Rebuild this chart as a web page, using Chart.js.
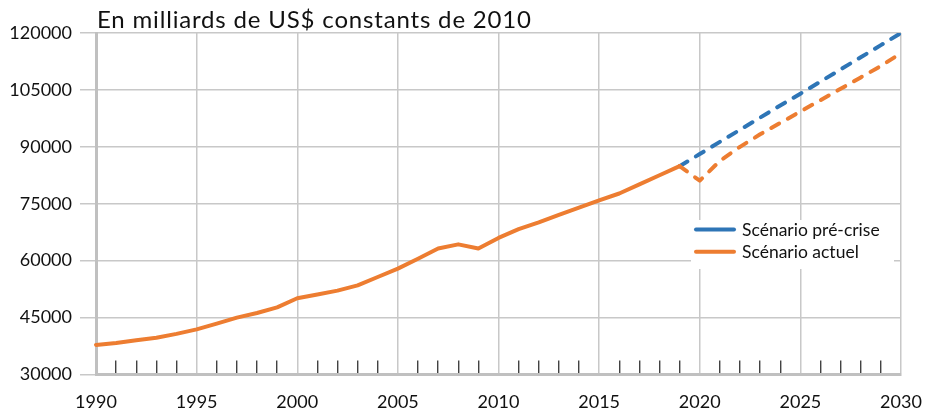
<!DOCTYPE html>
<html>
<head>
<meta charset="utf-8">
<script src="https://cdn.jsdelivr.net/npm/chart.js@4.4.1/dist/chart.umd.min.js"></script>
<style>
  body { margin: 0; background: #fff; }
  #wrap { width: 925px; height: 416px; position: relative; }
</style>
</head>
<body>
<div id="wrap"><canvas id="myChart"></canvas></div>
<script>
// years on the x axis
const years = [];
for (let y = 1990; y <= 2030; y++) years.push(String(y));

// observed values 1990-2019
const historique = [37800, 38300, 39000, 39700, 40700, 41900, 43400, 45000, 46200, 47700,
                    50100, 51100, 52100, 53500, 55700, 57900, 60500, 63200, 64300, 63200,
                    66000, 68300, 70100, 72100, 74000, 75900, 77700, 80100, 82500, 84900];
// projections 2020-2030
const preCrise = [88100, 91300, 94500, 97700, 100900, 104000, 107200, 110400, 113600, 116800, 120000];
const actuel = [81100, 86300, 90000, 93300, 96300, 99300, 102300, 105300, 108300, 111300, 114700];

const yTicks = [30000, 45000, 60000, 75000, 90000, 105000, 120000];
const titre = 'En milliards de US$ constants de 2010';
const labels = ['Scénario pré-crise', 'Scénario actuel'];

const lastHist = historique.length - 1;
const serieActuel = historique.concat(actuel);
const seriePreCrise = historique.map((v, i) => i === lastHist ? v : null).concat(preCrise);

const FONT = 'Lato';
const dashed = ctx => ctx.p0DataIndex >= lastHist ? [9, 10] : undefined;

const titlePlugin = {
    id: 'titre',
    afterDraw(chart) {
        const c = chart.ctx;
        c.save();
        c.font = '24px ' + FONT;
        // stretch a little to the width of the original title
        const w = c.measureText(titre).width;
        c.letterSpacing = Math.max(0, (434 - w) / (titre.length - 1)) + 'px';
        c.fillStyle = '#111';
        c.textBaseline = 'alphabetic';
        c.textAlign = 'left';
        c.fillText(titre, 97, 27.5);
        c.restore();
    }
};

const legendPlugin = {
    id: 'legendeBox',
    afterDraw(chart) {
        const c = chart.ctx;
        c.save();
        c.fillStyle = '#fff';
        c.fillRect(691, 220, 203, 49);
        c.font = '17.5px ' + FONT;
        c.textBaseline = 'middle';
        c.textAlign = 'left';
        chart.data.datasets.forEach((ds, i) => {
            const y = 229.5 + i * 22.3;
            c.strokeStyle = ds.borderColor;
            c.lineWidth = 4;
            c.lineCap = 'round';
            c.beginPath();
            c.moveTo(696, y);
            c.lineTo(734, y);
            c.stroke();
            c.fillStyle = '#111';
            c.fillText(ds.label, 742, y + 1);
        });
        c.restore();
    }
};

const ctx = document.getElementById('myChart').getContext('2d');
const myChart = new Chart(ctx, {
    type: 'line',
    data: {
        labels: years,
        datasets: [{
            label: labels[0],
            data: seriePreCrise,
            borderColor: '#2E75B6',
            borderWidth: 4,
            borderCapStyle: 'round',
            borderJoinStyle: 'round',
            pointRadius: 0,
            tension: 0,
            spanGaps: false,
            segment: { borderDash: dashed },
            order: 2
        }, {
            label: labels[1],
            data: serieActuel,
            borderColor: '#ED7D31',
            borderWidth: 4,
            borderCapStyle: 'round',
            borderJoinStyle: 'round',
            pointRadius: 0,
            tension: 0,
            segment: { borderDash: dashed },
            order: 1
        }]
    },
    options: {
        responsive: true,
        maintainAspectRatio: false,
        animation: false,
        layout: { padding: { top: 33, right: 24, left: 0, bottom: 0 } },
        plugins: {
            legend: { display: false },
            tooltip: { enabled: false }
        },
        scales: {
            x: {
                type: 'category',
                offset: false,
                border: { color: '#c0c0c0', width: 3 },
                grid: {
                    color: c => (c.index % 5 === 0 ? '#c8c8c8' : 'rgba(0,0,0,0)'),
                    lineWidth: 1.5,
                    tickLength: -14,
                    tickColor: c => (c.index % 5 === 0 ? 'rgba(0,0,0,0)' : '#222'),
                    tickWidth: 1.2
                },
                ticks: {
                    autoSkip: false,
                    maxRotation: 0,
                    padding: 31,
                    color: '#111',
                    font: { family: FONT, size: 18 },
                    callback: function (value, index) {
                        return index % 5 === 0 ? this.getLabelForValue(value) : '';
                    }
                },
                afterFit: s => { s.height = 41.5; s.paddingLeft = 0; s.paddingRight = 0; }
            },
            y: {
                min: 30000,
                max: 120000,
                border: { color: '#c0c0c0', width: 3 },
                grid: {
                    color: '#c8c8c8',
                    lineWidth: 1.5,
                    tickLength: 16,
                    tickColor: '#c8c8c8'
                },
                afterBuildTicks: s => { s.ticks = yTicks.map(v => ({ value: v })); },
                ticks: {
                    padding: 8,
                    color: '#111',
                    font: { family: FONT, size: 18 },
                    callback: v => String(v)
                },
                afterFit: s => { s.width = 96; s.paddingTop = 0; s.paddingBottom = 0; }
            }
        }
    },
    plugins: [titlePlugin, legendPlugin]
});
</script>
</body>
</html>
